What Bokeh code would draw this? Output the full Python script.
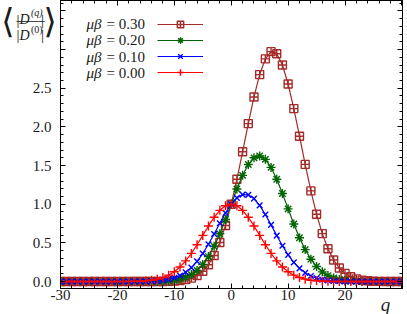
from bokeh.plotting import figure
from bokeh.layouts import column, row
from bokeh.models import Range1d, FixedTicker, LinearAxis, Label, Legend, LegendItem
from bokeh.core.properties import value
from bokeh.embed import file_html
from bokeh.resources import INLINE

# ---------------- data ----------------
q = list(range(-30, 31))

mb030 = [0.0, 0.0, 0.0, 0.0, 0.0, 0.0, 0.0, 0.0, 0.0, 0.0, 0.0, 0.0, 0.0, 0.0, 0.0,
         0.0001, 0.0003, 0.0006, 0.0014, 0.0030, 0.0063, 0.0126, 0.0242, 0.0446, 0.0787,
         0.1333, 0.2166, 0.3377, 0.5053, 0.7257,
         1.0,
         1.3223, 1.6778, 2.0429, 2.3872, 2.6769, 2.8796, 2.9733, 2.9454, 2.8004, 2.5549,
         2.2371, 1.8793, 1.5152, 1.1723, 0.8700, 0.6198, 0.4237, 0.2779, 0.1750, 0.1057,
         0.0612, 0.0341, 0.0182, 0.0093, 0.0046, 0.0022, 0.0010, 0.0004, 0.0002, 0.0001]

mb020 = [0.0, 0.0, 0.0, 0.0, 0.0, 0.0, 0.0, 0.0, 0.0, 0.0, 0.0, 0.0, 0.0,
         0.0001, 0.0002, 0.0005, 0.0011, 0.0023, 0.0047, 0.0091, 0.0172, 0.0311, 0.0539,
         0.0898, 0.1434, 0.2197, 0.3231, 0.4558, 0.6172, 0.8020,
         1.0,
         1.1965, 1.3737, 1.5135, 1.6002, 1.6236, 1.5804, 1.4765, 1.3234, 1.1385, 0.9399,
         0.7447, 0.5660, 0.4129, 0.2891, 0.1941, 0.1251, 0.0774, 0.0459, 0.0262, 0.0143,
         0.0075, 0.0038, 0.0018, 0.0009, 0.0004, 0.0002, 0.0001, 0.0, 0.0, 0.0]

mb010 = [0.0, 0.0, 0.0, 0.0, 0.0, 0.0, 0.0, 0.0, 0.0, 0.0, 0.0,
         0.0001, 0.0002, 0.0005, 0.0010, 0.0022, 0.0043, 0.0084, 0.0155, 0.0275, 0.0468,
         0.0765, 0.1201, 0.1808, 0.2612, 0.3623, 0.4820, 0.6153, 0.7539, 0.8864,
         1.0,
         1.0826, 1.1247, 1.1212, 1.0726, 0.9848, 0.8673, 0.7332, 0.5947, 0.4629, 0.3458,
         0.2479, 0.1705, 0.1125, 0.0713, 0.0433, 0.0253, 0.0141, 0.0076, 0.0039, 0.0019,
         0.0009, 0.0004, 0.0002, 0.0001, 0.0, 0.0, 0.0, 0.0, 0.0, 0.0]

mb000 = [0.0, 0.0, 0.0, 0.0, 0.0, 0.0, 0.0, 0.0, 0.0,
         0.0001, 0.0003, 0.0006, 0.0013, 0.0026, 0.0051, 0.0097, 0.0176, 0.0307, 0.0514, 0.0825,
         0.127, 0.188, 0.267, 0.364, 0.476, 0.597, 0.719, 0.831, 0.921, 0.980,
         1.0,
         0.980, 0.921, 0.831, 0.719, 0.597, 0.476, 0.364, 0.267, 0.188, 0.127,
         0.0825, 0.0514, 0.0307, 0.0176, 0.0097, 0.0051, 0.0026, 0.0013, 0.0006, 0.0003, 0.0001,
         0.0, 0.0, 0.0, 0.0, 0.0, 0.0, 0.0, 0.0, 0.0]

series_values = [mb030, mb020, mb010, mb000]
series_labels = ["0.30", "0.20", "0.10", "0.00"]
series_colors = ["#a52a2a", "#006400", "#0000ff", "#ff0000"]
series_markers = ["square_cross", "asterisk", "x", "cross"]
series_sizes = [8, 9, 8, 9]

x_ticks = [-30, -20, -10, 0, 10, 20, 30]
x_tick_labels = ["-30", "-20", "-10", "0", "10", "20", ""]
x_minor = list(range(-30, 31, 2))
y_ticks = [0.0, 0.5, 1.0, 1.5, 2.0, 2.5, 3.0, 3.5]
y_tick_labels = ["0.0", "0.5", "1.0", "1.5", "2.0", "2.5", "", ""]
y_minor = [round(0.1 * i, 1) for i in range(-1, 37)]

SERIF = "Liberation Serif"
TXT = "#1a1a1a"
W, H = 407, 314
# frame: x 60..402, y 0..288 (canvas pixels)
FR_L, FR_R, FR_B = 60, 402, 288

p = figure(width=W, height=H,
           x_range=Range1d(-30, 30.1), y_range=Range1d(-0.09, 3.635),
           output_backend="svg", toolbar_location=None,
           min_border_left=FR_L, min_border_right=W - FR_R, min_border_top=0,
           min_border_bottom=H - FR_B)
p.xgrid.visible = False
p.ygrid.visible = False
p.outline_line_color = "black"
p.background_fill_color = "white"
p.border_fill_color = "white"


def style_axis(ax, ticks, minor, labels, show):
    ax.ticker = FixedTicker(ticks=ticks, minor_ticks=minor)
    ax.major_tick_in = 5
    ax.major_tick_out = 0
    ax.minor_tick_in = 3
    ax.minor_tick_out = 0
    ax.axis_line_color = "black"
    ax.major_tick_line_color = "black"
    ax.minor_tick_line_color = "black"
    if show:
        ax.major_label_overrides = {t: s for t, s in zip(ticks, labels)}
        ax.major_label_text_font = SERIF
        ax.major_label_text_font_size = "15px"
        ax.major_label_text_color = TXT
    else:
        ax.major_label_text_font_size = "0px"
        ax.major_label_text_color = None
        ax.major_label_standoff = 0


style_axis(p.xaxis[0], x_ticks, x_minor, x_tick_labels, True)
p.xaxis[0].major_label_standoff = 1
style_axis(p.yaxis[0], y_ticks, y_minor, y_tick_labels, True)
p.yaxis[0].major_label_standoff = 9

top_ax = LinearAxis()
style_axis(top_ax, x_ticks, x_minor, x_tick_labels, False)
p.add_layout(top_ax, "above")
right_ax = LinearAxis()
style_axis(right_ax, y_ticks, y_minor, y_tick_labels, False)
p.add_layout(right_ax, "right")

items = []
for vals, lab_, col, mk, sz in zip(series_values, series_labels, series_colors,
                                   series_markers, series_sizes):
    ln = p.line(q, vals, line_color=col, line_width=1.2)
    sc = p.scatter(q, vals, marker=mk, size=sz, line_color=col, fill_color=None,
                   line_width=1.4)
    items.append(LegendItem(label=value(""), renderers=[ln, sc]))

legend = Legend(items=items, location=(97, 208), orientation="vertical",
                glyph_width=46, glyph_height=16, label_height=16, label_width=0,
                label_standoff=0, spacing=0, padding=0, margin=0,
                label_text_font_size="8px",
                border_line_color=None, background_fill_alpha=0)
p.add_layout(legend)


def make_label(x, y, t, size, style="normal", align="left", base="alphabetic", font=SERIF):
    return Label(x=x, y=y, x_units="screen", y_units="screen", text=t,
                 text_font=font, text_font_style=style, text_font_size=size,
                 text_color=TXT, text_align=align, text_baseline=base)


# legend texts (inside the main frame; text to the left of the samples)
row_y = [23.5, 39.8, 56.1, 72.4]
for lab_, yy in zip(series_labels, row_y):
    p.add_layout(make_label(101 - FR_L, FR_B - yy, "μβ", "15px", style="italic",
                            align="right", base="middle"))
    p.add_layout(make_label(106 - FR_L, FR_B - yy, "= " + lab_, "15px",
                            align="left", base="middle"))


def overlay(bl, br, bt, bb):
    f = figure(width=W, height=H, x_range=Range1d(0, 1), y_range=Range1d(0, 1),
               output_backend="svg", toolbar_location=None,
               x_axis_location=None, y_axis_location=None,
               min_border_left=bl, min_border_right=br, min_border_top=bt,
               min_border_bottom=bb)
    f.xgrid.visible = False
    f.ygrid.visible = False
    f.outline_line_color = None
    f.background_fill_color = None
    f.border_fill_color = None
    return f


# overlay for the y-axis title: frame spans x 0..407, y 0..288
ovT = overlay(0, 0, 0, H - FR_B)
ovT.margin = (0, 0, 0, -W)


def lt(wx, wy, *a, **k):
    ovT.add_layout(make_label(wx, FR_B - wy, *a, **k))


# y-axis title:  < |D^(q)| / |D^(0)| >
lt(7.5, 20, "⟨", "34px", align="center", base="middle", font="DejaVu Sans")
lt(49.7, 20, "⟩", "34px", align="center", base="middle", font="DejaVu Sans")
lt(16, 19, "|", "15px")
lt(19, 19, "D", "14px", style="italic")
lt(30.5, 11.5, "(q)", "10px", style="italic")
lt(40.5, 19, "|", "15px")
lt(16, 21, "─────", "9.3px", base="middle", font="DejaVu Sans Mono")
lt(16, 34.5, "|", "15px")
lt(19, 34.5, "D", "14px", style="italic")
lt(30.5, 29, "(0)", "10px")
lt(40.5, 34.5, "|", "15px")

# overlay for the x-axis title: frame spans x 60..402, y 0..314
ovQ = overlay(FR_L, W - FR_R, 0, 0)
ovQ.margin = (-H, 0, 0, 0)
ovQ.add_layout(make_label(385 - FR_L, H - 304, "q", "19px", style="italic",
                          align="center"))

layout = column(row(p, ovT, spacing=0), ovQ, spacing=0)
open("out.html", "w").write(file_html(layout, INLINE))
